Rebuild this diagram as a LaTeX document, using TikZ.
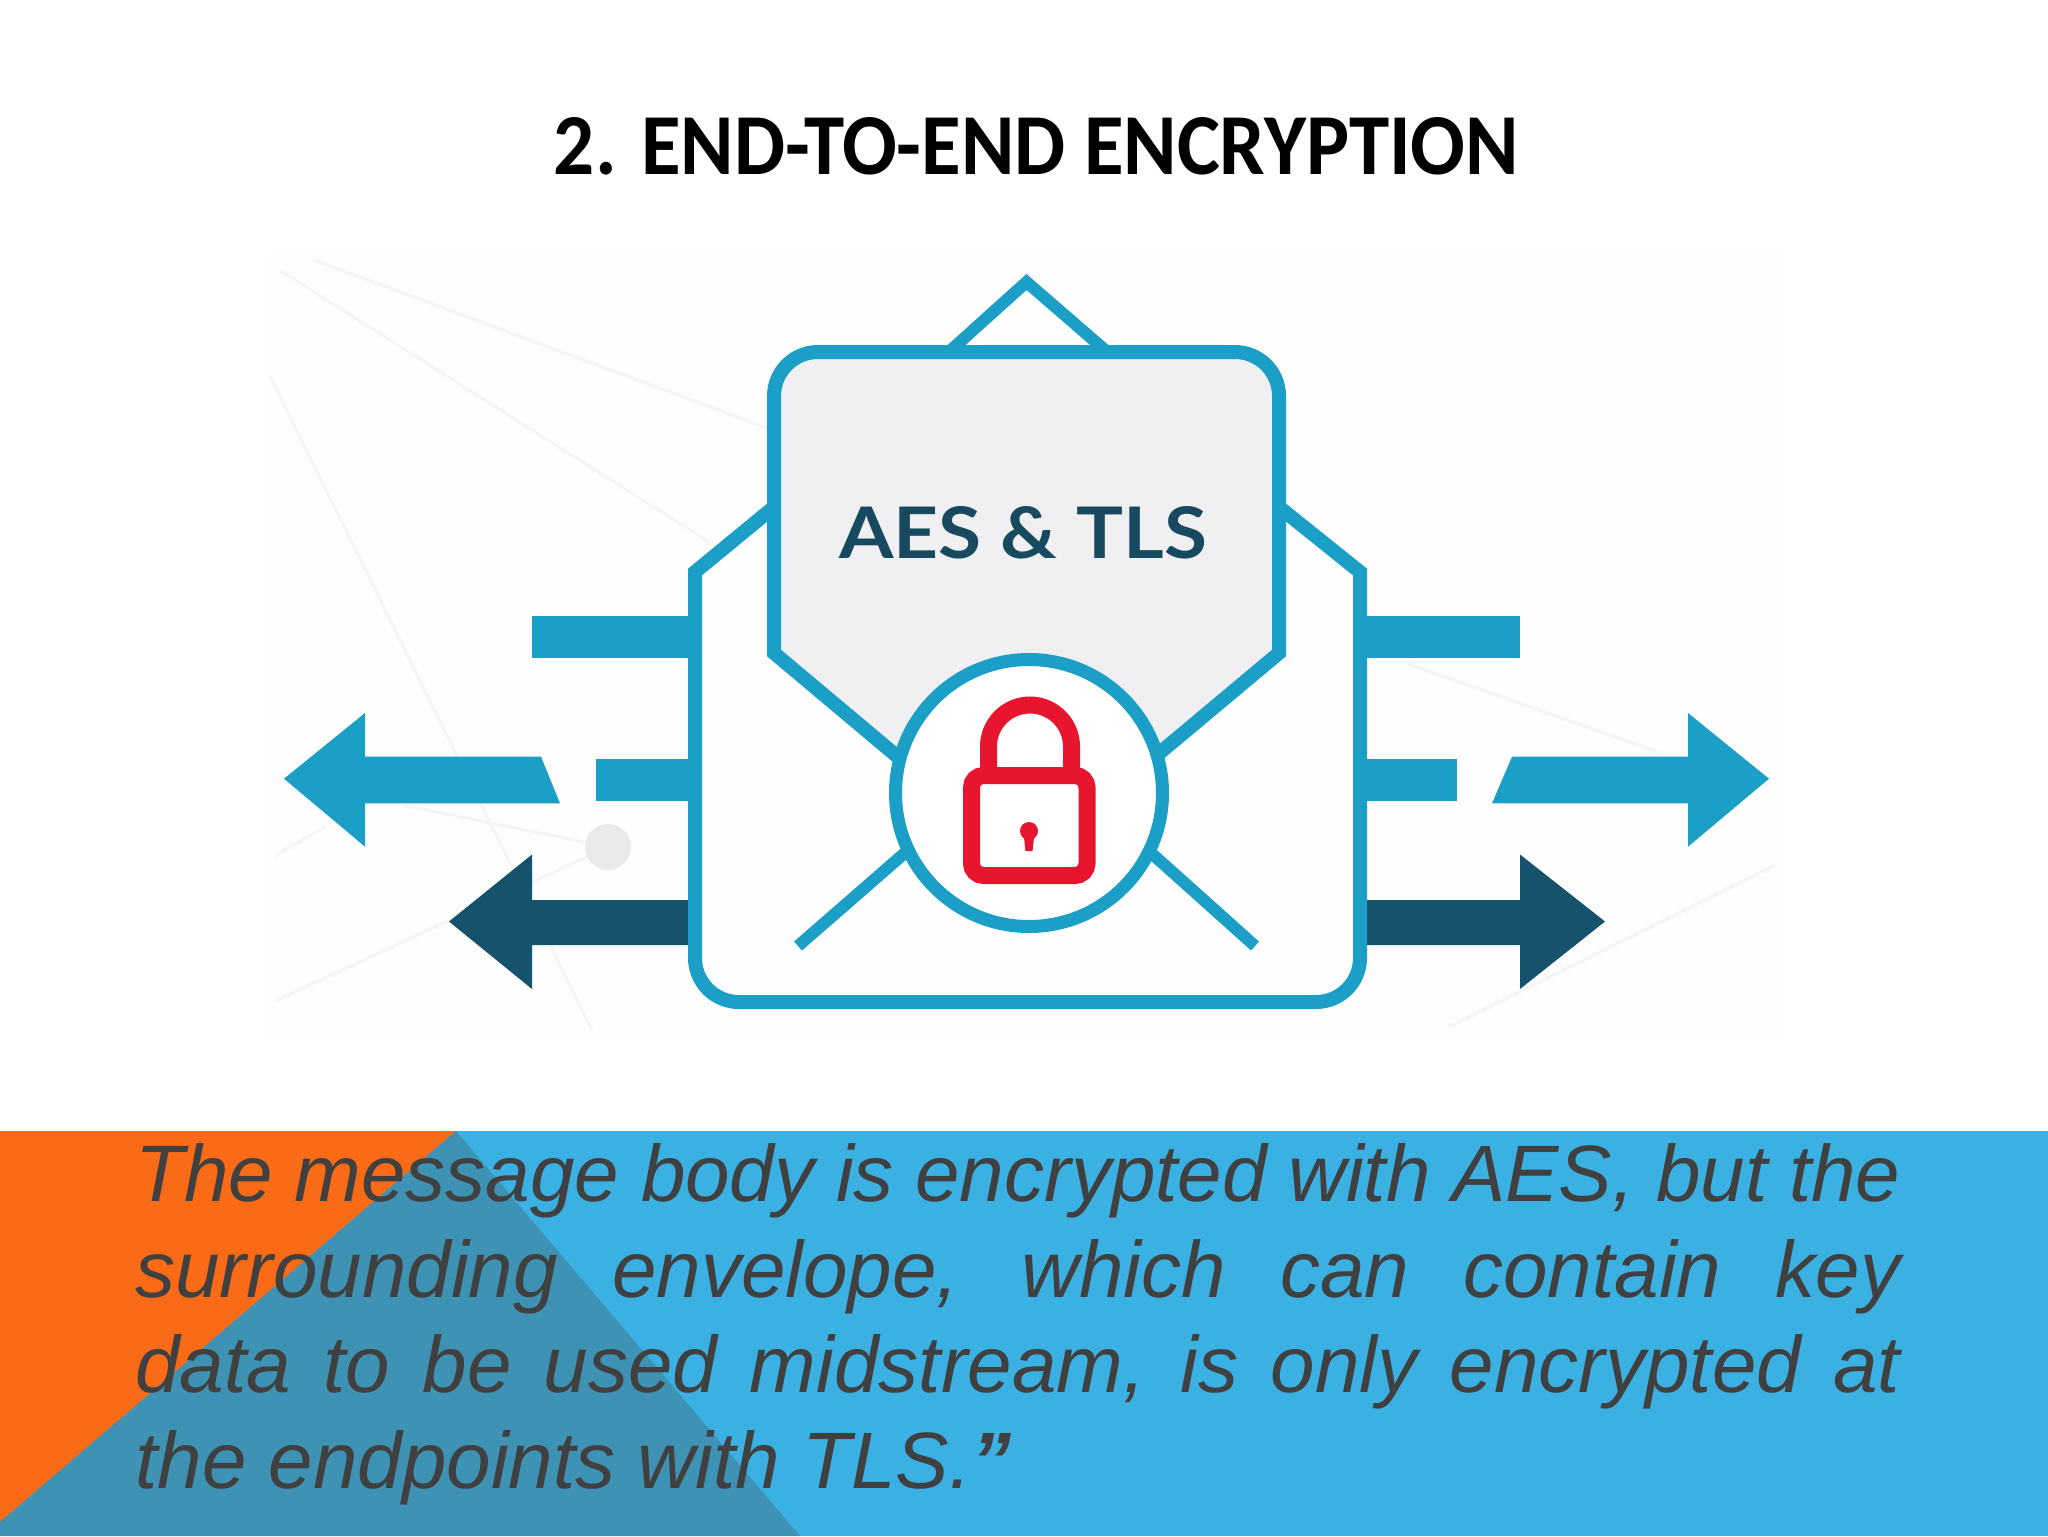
\documentclass[tikz,border=0pt]{standalone}
\usepackage{fontspec}
\usepackage{graphicx}
\setmainfont{Liberation Sans}
\newfontfamily\titlefont{Carlito}
\newfontfamily\logofont{Lato}
\definecolor{envblue}{HTML}{1C9FC7}
\definecolor{envdark}{HTML}{16526B}
\definecolor{lockred}{HTML}{E8152F}
\definecolor{lettergray}{HTML}{F0F0F2}
\definecolor{faint}{HTML}{F5F5F6}
\definecolor{dotgray}{HTML}{EAEAEC}
\definecolor{paper}{HTML}{FEFEFE}
\definecolor{bandblue}{HTML}{3BB0E2}
\definecolor{bandorange}{HTML}{F96B16}
\definecolor{bandmid}{HTML}{3E93B5}
\definecolor{bodygray}{HTML}{404040}
\definecolor{logotext}{HTML}{17495F}
\tikzset{
  faintline/.style={draw=faint,line width=1.5pt},
  lightbar/.style={fill=envblue,draw=none},
  darkbar/.style={fill=envdark,draw=none},
  envline/.style={draw=envblue,line width=7pt,line join=miter},
  thinline/.style={draw=envblue,line width=6pt,line join=miter},
  lockline/.style={draw=lockred,line width=8.5pt}
}
\begin{document}
\begin{tikzpicture}[x=0.5pt,y=-0.5pt]
\useasboundingbox (0,0) rectangle (2048,1536);
\fill[white] (0,0) rectangle (2048,1536);
% faded image background
\fill[paper] (270,250) rectangle (1780,1040);
\draw[faintline] (314,260) -- (767,428);
\draw[faintline] (281,271) -- (709,542);
\draw[faintline] (270,376) -- (592,1030);
\draw[faintline] (403,805) -- (608,847);
\draw[faintline] (275,856) -- (326,826);
\draw[faintline] (608,847) -- (275,1001);
\draw[faintline] (1408,664) -- (1658,752);
\draw[faintline] (1775,865) -- (1449,1027);
\fill[dotgray] (608,847) circle [radius=23];
% bars and arrows
\path[lightbar] (532,615.5) rectangle (700,657.5);
\path[lightbar] (596,759) rectangle (700,800.5);
\path[lightbar] (1355,615.5) rectangle (1520,657.5);
\path[lightbar] (1355,759) rectangle (1457,800.5);
\path[lightbar] (284,778.7) -- (365,713) -- (365,756.7) -- (541,756.7) -- (560,803.3) -- (365,803.3) -- (365,846.7) -- cycle;
\path[lightbar] (1769,778.7) -- (1688,713) -- (1688,756.7) -- (1512,756.7) -- (1492,803.3) -- (1688,803.3) -- (1688,846.7) -- cycle;
\path[darkbar] (449,921.5) -- (532,854.5) -- (532,900) -- (700,900) -- (700,945) -- (532,945) -- (532,989) -- cycle;
\path[darkbar] (1605,921.5) -- (1520,854.5) -- (1520,900) -- (1355,900) -- (1355,945) -- (1520,945) -- (1520,989) -- cycle;
% envelope
\draw[thinline] (951,350) -- (1026.5,282) -- (1105,350);
\path[envline,fill=paper] (774,507) -- (695,572) [rounded corners=22pt] -- (695,1002) -- (1360,1002) [sharp corners] -- (1360,572) -- (1279,507) -- cycle;
\path[fill=paper] (778,512) rectangle (1275,600);
% letter
\path[envline,fill=lettergray] (905,763) -- (774,653) [rounded corners=22pt] -- (774,352) -- (1279,352) [sharp corners] -- (1279,653) -- (1150,761) -- cycle;
\draw[thinline] (930,831) -- (798,946);
\draw[thinline] (1130,834) -- (1255,946);
\path[draw=envblue,line width=6.5pt,fill=white] (1029,793) circle [radius=133.5];
% lock
\draw[lockline,rounded corners=20.75pt] (988.5,776) -- (988.5,705) -- (1071.5,705) -- (1071.5,776);
\draw[lockline,rounded corners=6pt,fill=white] (971.5,775.5) rectangle (1087,875.5);
\fill[lockred] (1029,831) circle [radius=9];
\fill[lockred] (1023.5,833) -- (1034.5,833) -- (1032.5,851) -- (1025.5,851) -- cycle;
% band
\fill[bandblue] (0,1131) rectangle (2048,1536);
\fill[bandorange] (0,1131) -- (456,1131) -- (0,1522) -- (0,1536) -- cycle;
\fill[bandmid] (456,1131) -- (800,1536) -- (0,1536) -- (0,1522) -- cycle;
% texts
\node[inner sep=0pt] (title) at (1036.5,146) {\resizebox{482.5pt}{28.5pt}{\titlefont\bfseries 2. END-TO-END ENCRYPTION}};
\node[inner sep=0pt,text=logotext] (logo) at (1023,533) {\resizebox{184pt}{26pt}{\logofont\bfseries AES \& TLS}};
\node[anchor=north west,inner sep=0pt,text width=882.5pt,align=justify,text=bodygray,font=\itshape\fontsize{40pt}{47.75pt}\selectfont] (body) at (135,1143.5) {The message body is encrypted with AES, but the\linebreak surrounding envelope, which can contain key\linebreak data to be used midstream, is only encrypted at\linebreak the endpoints with TLS.{\bfseries ”}};
\end{tikzpicture}
\end{document}
